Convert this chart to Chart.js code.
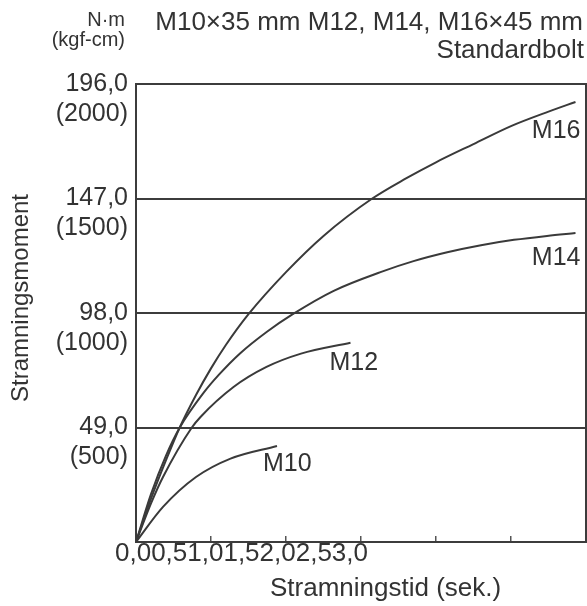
<!DOCTYPE html>
<html>
<head>
<meta charset="utf-8">
<script src="https://cdn.jsdelivr.net/npm/chart.js@4.4.0/dist/chart.umd.min.js"></script>
<style>
  html, body { margin: 0; padding: 0; background: #fff; }
  #wrap { width: 587px; height: 606px; }
</style>
</head>
<body>
<div id="wrap"><canvas id="torqueChart" width="587" height="606"></canvas></div>
<script>
// tightening time (s) / torque (N·m)
const m16Time = [0, 0.1, 0.2, 0.29, 0.4, 0.5, 0.6, 0.75, 1.0, 1.25, 1.575, 1.8, 2.0, 2.25, 2.5, 2.75, 2.93];
const m16Torque = [0, 18.5, 35, 48.8, 62.9, 74.3, 84.4, 97.5, 115.5, 131, 147, 155.6, 162.5, 170.3, 178, 184.2, 188.3];
const m14Time = [0, 0.1, 0.2, 0.29, 0.45, 0.55, 0.695, 0.873, 1.04, 1.318, 1.63, 1.85, 2.075, 2.3, 2.52, 2.74, 2.93];
const m14Torque = [0, 20.5, 37, 48.8, 63.8, 71.4, 80.8, 90, 97.3, 107.5, 115.5, 120.2, 124, 127, 129.3, 131, 132.2];
const m12Time = [0, 0.1, 0.18, 0.37, 0.43, 0.65, 0.87, 1.1, 1.43];
const m12Torque = [0, 16.5, 27.8, 48.8, 53.5, 66.3, 74.9, 80.6, 85.3];
const m10Time = [0, 0.18, 0.4, 0.63, 0.94];
const m10Torque = [0, 15, 27.8, 35.7, 41.1];

const seriesNames = ['M16', 'M14', 'M12', 'M10'];

const yTickValues = [0, 49, 98, 147, 196];
const yTickNm = ['', '49,0', '98,0', '147,0', '196,0'];
const yTickKgf = ['', '(500)', '(1000)', '(1500)', '(2000)'];
const xTickValues = [0, 0.5, 1, 1.5, 2, 2.5, 3];
const xTickLabels = ['0,0', '0,5', '1,0', '1,5', '2,0', '2,5', '3,0'];

const titleLines = ['M10×35 mm M12, M14, M16×45 mm', 'Standardbolt'];
const unitLines = ['N·m', '(kgf-cm)'];
const xTitle = 'Stramningstid (sek.)';
const yTitle = 'Stramningsmoment';

const FONT = '"Liberation Sans", Arial, Helvetica, sans-serif';
const INK = '#333';

function toPoints(xs, ys) {
  return xs.map((x, i) => ({ x: x, y: ys[i] }));
}

// where each curve name sits, relative to the curve's last point
const nameOffsets = {
  M16: { dx: 5, dy: 29, align: 'right' },
  M14: { dx: 5, dy: 25, align: 'right' },
  M12: { dx: -21, dy: 20, align: 'left' },
  M10: { dx: -14, dy: 18, align: 'left' }
};

const textPlugin = {
  id: 'textPlugin',
  afterDraw(chart) {
    const ctx = chart.ctx;
    ctx.save();
    ctx.fillStyle = INK;
    ctx.textBaseline = 'middle';

    // header
    ctx.font = '26px ' + FONT;
    ctx.textAlign = 'right';
    ctx.fillText(titleLines[0], 583, 23);
    ctx.fillText(titleLines[1], 584, 51);

    // units above y axis
    ctx.font = '20px ' + FONT;
    ctx.fillText(unitLines[0], 125, 20);
    ctx.fillText(unitLines[1], 125, 40);

    // x tick labels, packed together at the left as in the original
    ctx.font = '26px ' + FONT;
    ctx.textAlign = 'left';
    ctx.fillText(xTickLabels.join(''), 115, 554);

    // x axis title
    ctx.fillText(xTitle, 270, 589);

    // y axis title
    ctx.save();
    ctx.font = '24px ' + FONT;
    ctx.translate(21, 298);
    ctx.rotate(-Math.PI / 2);
    ctx.textAlign = 'center';
    ctx.fillText(yTitle, 0, 0);
    ctx.restore();

    // curve names
    ctx.font = '25px ' + FONT;
    chart.data.datasets.forEach((ds, i) => {
      const meta = chart.getDatasetMeta(i);
      const last = meta.data[meta.data.length - 1];
      const off = nameOffsets[ds.label];
      ctx.textAlign = off.align;
      ctx.fillText(ds.label, last.x + off.dx, last.y + off.dy);
    });
    ctx.restore();
  }
};

const seriesData = [
  toPoints(m16Time, m16Torque),
  toPoints(m14Time, m14Torque),
  toPoints(m12Time, m12Torque),
  toPoints(m10Time, m10Torque)
];

const ctx = document.getElementById('torqueChart').getContext('2d');
const torqueChart = new Chart(ctx, {
  type: 'line',
  data: {
    datasets: seriesNames.map((name, i) => ({
      label: name,
      data: seriesData[i],
      borderColor: '#3a3a3a',
      borderWidth: 2,
      pointRadius: 0,
      fill: false,
      cubicInterpolationMode: 'monotone'
    }))
  },
  options: {
    responsive: false,
    animation: false,
    devicePixelRatio: 1,
    layout: { padding: { top: 84, right: 1, left: 0, bottom: 0 } },
    plugins: {
      legend: { display: false },
      tooltip: { enabled: false },
      title: { display: false }
    },
    scales: {
      x: {
        type: 'linear',
        min: 0,
        max: 3,
        afterBuildTicks: (scale) => {
          scale.ticks = xTickValues.map((v) => ({ value: v }));
        },
        afterFit: (scale) => { scale.height = 64; },
        ticks: { display: false },
        grid: {
          drawOnChartArea: false,
          drawTicks: true,
          tickLength: -6,
          color: '#555',
          lineWidth: 1.5
        },
        border: { display: true, color: '#3c3c3c', width: 2 }
      },
      y: {
        min: 0,
        max: 196,
        afterBuildTicks: (scale) => {
          scale.ticks = yTickValues.map((v) => ({ value: v }));
        },
        afterFit: (scale) => { scale.width = 136; },
        ticks: {
          font: { family: FONT, size: 25, lineHeight: 1.2 },
          color: INK,
          padding: 8,
          labelOffset: 15,
          callback: (value) => {
            const i = yTickValues.indexOf(value);
            if (i <= 0) return '';
            return [yTickNm[i], yTickKgf[i]];
          }
        },
        grid: { color: '#3c3c3c', lineWidth: 2, drawTicks: false },
        border: { display: true, color: '#3c3c3c', width: 2 }
      },
      yRight: {
        position: 'right',
        min: 0,
        max: 196,
        afterFit: (scale) => { scale.width = 0; },
        ticks: { display: false },
        grid: { display: false, drawTicks: false },
        border: { display: true, color: '#3c3c3c', width: 2 }
      }
    }
  },
  plugins: [textPlugin]
});
</script>
</body>
</html>
